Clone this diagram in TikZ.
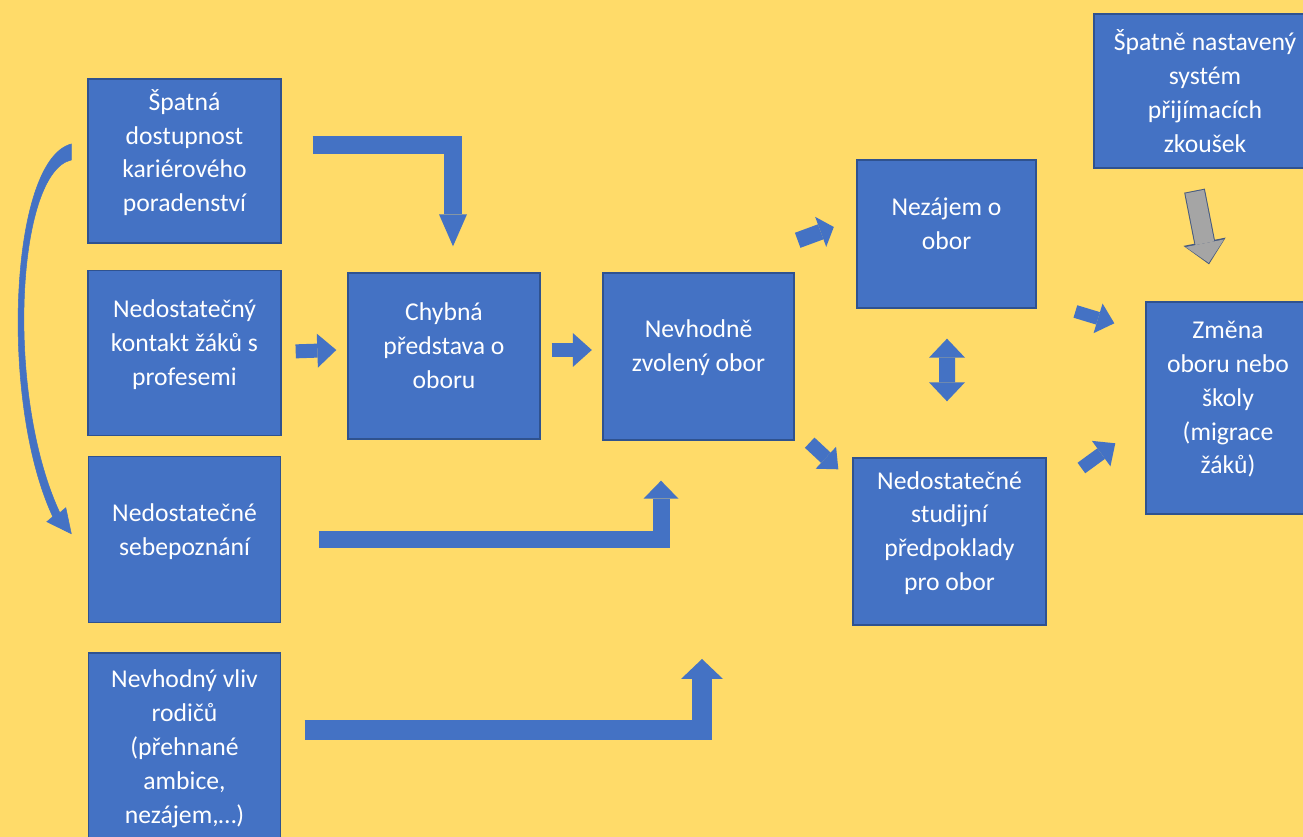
\documentclass[tikz,border=0pt]{standalone}
\usepackage{fontspec}
\setmainfont{Carlito}
\usetikzlibrary{positioning, calc, arrows.meta}

\definecolor{paper}{RGB}{255,219,105}
\definecolor{boxblue}{RGB}{68,114,196}
\definecolor{boxedge}{RGB}{47,82,143}
\definecolor{greyfill}{RGB}{165,165,165}
\definecolor{greyedge}{RGB}{70,90,128}

\begin{document}
\begin{tikzpicture}[x=0.02cm, y=-0.02cm,
    cell/.style={draw=boxedge, line width=0.8pt, fill=boxblue, text=white, align=center, inner sep=0pt,
                 font=\fontsize{14.6}{19.3}\selectfont},
    lift/.style={execute at end node={\rule[-0.42cm]{0pt}{0pt}}},
    flow/.style args={#1/#2/#3}{draw=boxblue, line width=#1cm, line join=miter,
                 -{Triangle[length=#2cm, width=#3cm, line width=0pt]}},
    greyrim/.style={draw=greyedge, line width=0.42cm, -{Triangle[length=0.46cm, width=0.86cm, line width=0pt]}},
    greyflow/.style={draw=greyfill, line width=0.38cm, -{Triangle[length=0.40cm, width=0.78cm, line width=0pt]},
                 shorten >=0.03cm, shorten <=0.02cm}]
            \useasboundingbox (0,0) rectangle (1303,837);
            \clip (0,0) rectangle (1303,837);
            \fill [paper] (0,0) rectangle (1303,837);

            % left column
            \node [cell, lift, minimum width=3.86cm, minimum height=3.28cm] (access) at (184.5,161) {Špatná\\dostupnost\\kariérového\\poradenství};
            \node [cell, lift, minimum width=3.86cm, minimum height=3.30cm, below=0.52cm of access] (contact) {Nedostatečný\\kontakt žáků s\\profesemi};
            \node [cell, lift, minimum width=3.84cm, minimum height=3.32cm, below=0.40cm of contact] (self) {Nedostatečné\\sebepoznání};
            \node [cell, minimum width=3.84cm, minimum height=3.82cm, below=0.58cm of self] (parents) {Nevhodný vliv\\rodičů\\(přehnané\\ambice,\\nezájem,…)};

            % middle and right
            \node [cell, lift, minimum width=3.84cm, minimum height=3.32cm] (idea) at (444,356) {Chybná\\představa o\\oboru};
            \node [cell, lift, minimum width=3.82cm, minimum height=3.34cm] (choice) at (698.5,356.5) {Nevhodně\\zvolený obor};
            \node [cell, lift, minimum width=3.58cm, minimum height=2.96cm] (interest) at (946.5,234) {Nezájem o\\obor};
            \node [cell, lift, minimum width=3.86cm, minimum height=3.34cm] (abilities) at (949.5,541.5) {Nedostatečné\\studijní\\předpoklady\\pro obor};
            \node [cell, minimum width=4.44cm, minimum height=3.08cm] (exams) at (1205,91) {Špatně nastavený\\systém\\přijímacích\\zkoušek};
            \node [cell, lift, minimum width=3.28cm, minimum height=4.24cm] (change) at (1228,408) {Změna\\oboru nebo\\školy\\(migrace\\žáků)};
            \coordinate (parentstip) at (702,659);

            % curved arrow
            \filldraw [fill=boxblue, draw=boxblue, line width=0.3pt]
                ($(access.west)+(-16,-17)$) .. controls +(-62,16) and +(-53.5,-114) .. ($(self.west)+(-35,-23)$)
                -- ($(self.west)+(-41,-18)$) -- ($(self.west)+(-16.5,-6)$) -- ($(self.west)+(-22,-32)$)
                -- ($(self.west)+(-28,-27)$) .. controls +(-55,-118) and +(-55,12) .. ($(access.west)+(-16,-1)$) -- cycle;

            % block arrows
            \draw [flow=0.28/0.38/0.68] ($(contact.east)+(14,-1.5)$) -- ($(idea.west)+(-11,-6)$);
            \draw [flow=0.28/0.38/0.68] ($(idea.east)+(11,-6)$) -- ($(choice.west)+(-10.5,-6.5)$);
            \draw [flow=0.36/0.64/0.56] ($(access.east)+(31,-16)$) -| ($(idea.north)+(9,-26)$);
            \draw [flow=0.34/0.36/0.70] ($(self.east)+(37.5,0)$) -| ($(choice.south)+(-37.5,40)$);
            \draw [flow=0.40/0.40/0.84] ($(parents.east)+(23.5,-18.5)$) -| (parentstip);
            \draw [flow=0.32/0.28/0.64] ($(choice.north east)+(3,-32)$) -- ($(interest.west)+(-22.5,-7)$);
            \draw [flow=0.28/0.34/0.60] ($(choice.south east)+(15,2)$) -- ($(abilities.north west)+(-14,12)$);
            \draw [draw=boxblue, line width=0.32cm, {Triangle[length=0.38cm, width=0.72cm, line width=0pt]}-{Triangle[length=0.38cm, width=0.72cm, line width=0pt]}]
                ($(interest.south)+(0.5,30)$) -- ($(abilities.north)+(-2.5,-56)$);
            \draw [flow=0.26/0.34/0.62] ($(interest.south east)+(38.7,2.8)$) -- ($(change.west)+(-31,-84.7)$);
            \draw [flow=0.26/0.35/0.63] ($(abilities.north east)+(34.7,10.7)$) -- ($(change.west)+(-30,35.3)$);
            \draw [greyrim] ($(exams.south)+(-10.5,22)$) -- ($(change.north)+(-19,-37)$);
            \draw [greyflow] ($(exams.south)+(-10.5,22)$) -- ($(change.north)+(-19,-37)$);
        \end{tikzpicture}
\end{document}
